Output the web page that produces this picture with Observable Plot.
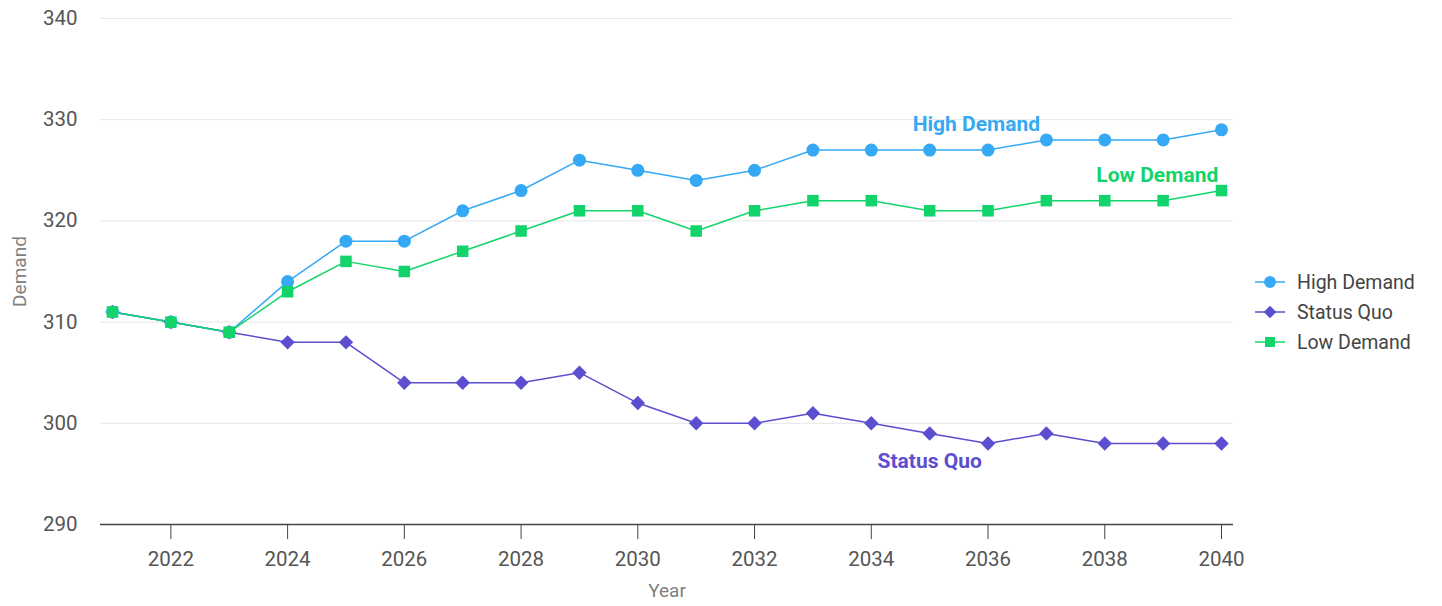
<!DOCTYPE html>
<html>
<head>
<meta charset="utf-8">
<script src="https://cdn.jsdelivr.net/npm/d3@7"></script>
<script src="https://cdn.jsdelivr.net/npm/@observablehq/plot@0.6"></script>
<style>
  html, body { margin: 0; padding: 0; background: #fff; }
  body { font-family: "Roboto", "Liberation Sans", sans-serif; }
  #wrap { position: relative; width: 1442px; height: 606px; }
  #legend { position: absolute; left: 1254px; top: 267px; font-size: 19.5px; color: #444; }
  .item { display: flex; align-items: center; height: 30px; }
  .item svg { margin-right: 11px; }
</style>
</head>
<body>
<div id="wrap"><div id="chart"></div><div id="legend"></div></div>
<script>
const years = [2021, 2022, 2023, 2024, 2025, 2026, 2027, 2028, 2029, 2030, 2031, 2032, 2033, 2034, 2035, 2036, 2037, 2038, 2039, 2040];
const highDemand = [311, 310, 309, 314, 318, 318, 321, 323, 326, 325, 324, 325, 327, 327, 327, 327, 328, 328, 328, 329];
const statusQuo  = [311, 310, 309, 308, 308, 304, 304, 304, 305, 302, 300, 300, 301, 300, 299, 298, 299, 298, 298, 298];
const lowDemand  = [311, 310, 309, 313, 316, 315, 317, 319, 321, 321, 319, 321, 322, 322, 321, 321, 322, 322, 322, 323];
const seriesNames = ["Status Quo", "High Demand", "Low Demand"];
const seriesValues = [statusQuo, highDemand, lowDemand];
const seriesColors = {"High Demand": "#35a9f4", "Status Quo": "#5b4fcf", "Low Demand": "#13d46b"};
const seriesSymbols = {"High Demand": "circle", "Status Quo": "diamond2", "Low Demand": "square"};
const legendOrder = ["High Demand", "Status Quo", "Low Demand"];
const xTicks = [2022, 2024, 2026, 2028, 2030, 2032, 2034, 2036, 2038, 2040];
const yTicks = [290, 300, 310, 320, 330, 340];
// label anchors in data space
const labelNames = ["High Demand", "Low Demand", "Status Quo"];
const labelYears = [2035.8, 2038.9, 2035.0];
const labelValues = [329.5, 324.5, 296.2];

const rows = seriesNames.flatMap((name, i) =>
  years.map((year, j) => ({series: name, year, value: seriesValues[i][j]})));
const labels = labelNames.map((name, i) => ({series: name, year: labelYears[i], value: labelValues[i]}));

const colorDomain = legendOrder;
const colorRange = legendOrder.map(n => seriesColors[n]);

const chart = Plot.plot({
  width: 1260,
  height: 606,
  marginLeft: 100,
  marginRight: 27,
  marginTop: 18,
  marginBottom: 82,
  style: {fontFamily: "Roboto, 'Liberation Sans', sans-serif", fontSize: "20px", color: "#555", background: "#fff", overflow: "visible"},
  x: {domain: [2021, 2040], insetLeft: 12, insetRight: 12},
  y: {domain: [290, 340]},
  color: {domain: colorDomain, range: colorRange},
  symbol: {domain: colorDomain, range: legendOrder.map(n => seriesSymbols[n])},
  marks: [
    Plot.gridY(yTicks.filter(t => t > 290), {stroke: "#e6e6e6", strokeOpacity: 1, strokeWidth: 1}),
    Plot.ruleY([290], {stroke: "#444", strokeWidth: 1.5}),
    Plot.axisX({ticks: xTicks, tickFormat: "d", tickSize: 15, tickPadding: 12, stroke: "#444", fill: "#555", fontSize: 20.5, label: "Year", labelAnchor: "center", labelOffset: 72, labelArrow: "none"}),
    Plot.axisY({ticks: yTicks, tickSize: 0, tickPadding: 23, fill: "#555", fontSize: 20.5, label: "Demand", labelAnchor: "center", labelOffset: 88, labelArrow: "none"}),
    Plot.line(rows, {x: "year", y: "value", z: "series", stroke: "series", strokeWidth: 1.5}),
    Plot.dot(rows, {x: "year", y: "value", fill: "series", symbol: "series", r: 6.5, stroke: "none"}),
    Plot.text(labels, {x: "year", y: "value", text: "series", fill: "series", fontSize: 21, fontWeight: "bold", textAnchor: "middle"})
  ]
});
// axis label styling
chart.querySelectorAll("[aria-label='x-axis label'] text, [aria-label='y-axis label'] text").forEach(t => {
  t.setAttribute("font-size", "19"); t.setAttribute("fill", "#808080");
});
document.getElementById("chart").appendChild(chart);

const legend = document.getElementById("legend");
legendOrder.forEach(name => {
  const item = document.createElement("div");
  item.className = "item";
  const sym = d3.symbol().type(
    seriesSymbols[name] === "circle" ? d3.symbolCircle :
    seriesSymbols[name] === "square" ? d3.symbolSquare : d3.symbolDiamond2
  ).size(seriesSymbols[name] === "circle" ? 110 : 100)();
  item.innerHTML = `<svg width="32" height="20"><line x1="1" x2="31" y1="10" y2="10" stroke="${seriesColors[name]}" stroke-width="1.5"/><path transform="translate(16,10)" d="${sym}" fill="${seriesColors[name]}"/></svg><span>${name}</span>`;
  legend.appendChild(item);
});
</script>
</body>
</html>
